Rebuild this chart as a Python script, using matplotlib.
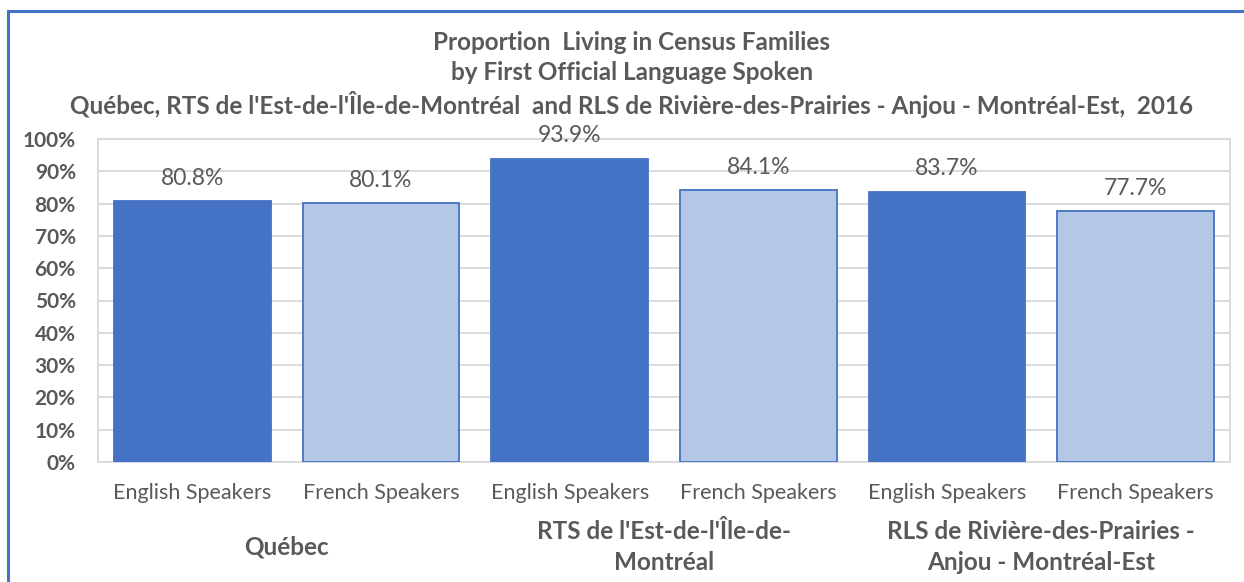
import matplotlib.pyplot as plt
from matplotlib.lines import Line2D

# data
groups = ["Québec", "RTS de l'Est-de-l'Île-de-\nMontréal", "RLS de Rivière-des-Prairies -\nAnjou - Montréal-Est"]
speakers = ["English Speakers", "French Speakers"]
values = [80.8, 80.1, 93.9, 84.1, 83.7, 77.7]
yticks = [0, 10, 20, 30, 40, 50, 60, 70, 80, 90, 100]

DARK = '#4472C4'
LIGHT = '#B4C7E7'
GREY = '#595959'
GRID = '#D9D9D9'

plt.rcParams['font.family'] = ['Lato', 'DejaVu Sans']

fig = plt.figure(figsize=(12.44, 5.82), dpi=100)
ax = fig.add_axes([98/1244, 1 - 462/582, (1230-98)/1244, (462-139)/582])

xs = list(range(len(values)))
colors = [DARK if i % 2 == 0 else LIGHT for i in xs]
bars = ax.bar(xs, values, width=0.83, color=colors, edgecolor=DARK, linewidth=1.3, zorder=3)
for b, v in zip(bars, values):
    ax.annotate(f'{v:.1f}%', (b.get_x() + b.get_width()/2, v), xytext=(0, 9),
                textcoords='offset points', ha='center', va='bottom',
                fontsize=16.5, color=GREY)

ax.set_xlim(-0.5, len(values) - 0.5)
ax.set_ylim(0, 100)
ax.set_yticks(yticks)
ax.set_yticklabels([f'{t}%' for t in yticks], fontsize=15, fontweight='bold', color=GREY)
ax.set_xticks(xs)
ax.set_xticklabels(speakers * len(groups), fontsize=15.5, color=GREY)
ax.tick_params(axis='both', length=0)
ax.tick_params(axis='x', pad=15)
ax.tick_params(axis='y', pad=16)
ax.grid(axis='y', color=GRID, linewidth=1.3, zorder=0)
for s in ax.spines.values():
    s.set_color(GRID)
    s.set_linewidth(1.3)

# group labels below the speaker labels
for gi, g in enumerate(groups):
    ax.annotate(g, (gi*2 + 0.5, 0), xytext=(0, -85*72/100), textcoords='offset points',
                ha='center', va='center', fontsize=17.5, fontweight='bold',
                color=GREY, linespacing=1.45)

title_lines = ['Proportion  Living in Census Families',
               'by First Official Language Spoken',
               "Québec, RTS de l'Est-de-l'Île-de-Montréal  and RLS de Rivière-des-Prairies - Anjou - Montréal-Est,  2016"]
for line, ypix in zip(title_lines, [42, 73, 105]):
    fig.text(0.508, 1 - ypix/582, line, ha='center', va='center',
             fontsize=17.5, fontweight='bold', color=GREY)

# blue frame of the chart (top and left only visible)
fig.add_artist(Line2D([8/1244, 1], [1 - 11/582, 1 - 11/582], color=DARK, linewidth=2.2))
fig.add_artist(Line2D([8/1244, 8/1244], [0, 1 - 11/582], color=DARK, linewidth=2.2))

fig.savefig('out.png', dpi=100)
